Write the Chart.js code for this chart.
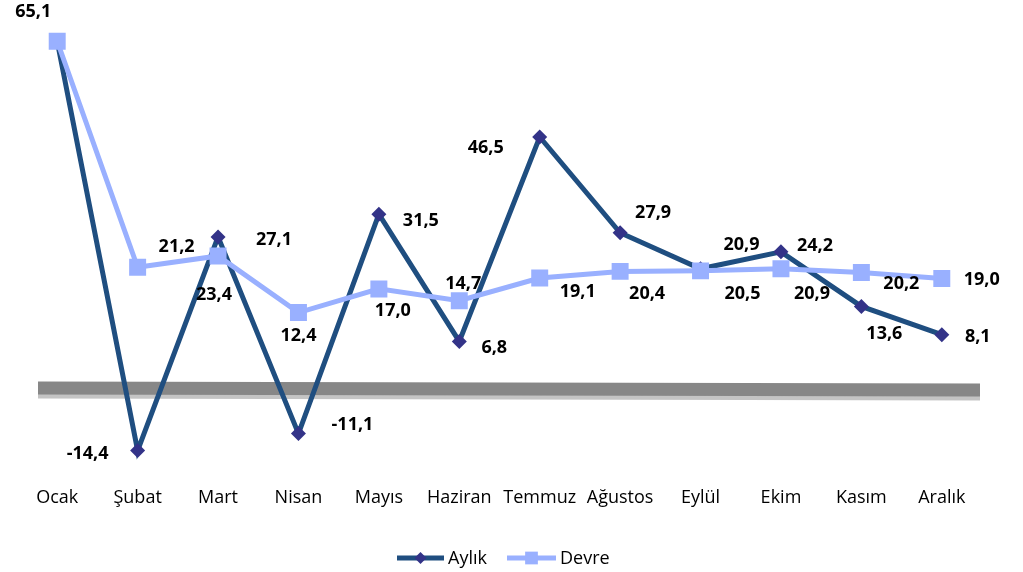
<!DOCTYPE html>
<html>
<head>
<meta charset="utf-8">
<script src="https://cdn.jsdelivr.net/npm/chart.js@4"></script>
<style>
  html, body { margin: 0; padding: 0; background: #fff; }
  #wrap { position: relative; width: 1023px; height: 572px; }
</style>
</head>
<body>
<div id="wrap"><canvas id="chart"></canvas></div>
<script>
// Data
const months = ['Ocak', 'Şubat', 'Mart', 'Nisan', 'Mayıs', 'Haziran', 'Temmuz', 'Ağustos', 'Eylül', 'Ekim', 'Kasım', 'Aralık'];
const aylik = [65.1, -14.4, 27.1, -11.1, 31.5, 6.8, 46.5, 27.9, 20.9, 24.2, 13.6, 8.1];
const devre = [65.1, 21.2, 23.4, 12.4, 17.0, 14.7, 19.1, 20.4, 20.5, 20.9, 20.2, 19.0];

// Label offsets (px) from each point; null = no label
const aylikLabelOffsets = [[-24, -29], [-50, 3], [56, 3], [54, -9], [42, 7], [35, 6], [-54, 11], [33, -20], [41, -24], [34, -6], [23, 27], [36, 2]];
const devreLabelOffsets = [null, [39, -20], [-4, 39], [0, 23], [14, 22], [4, -17], [38, 14], [27, 22], [42, 23], [31, 25], [40, 11], [40, 1]];

const FONT = '"Open Sans", "Noto Sans", sans-serif';

function fmt(v) {
    return v.toFixed(1).replace('.', ',');
}

/**
 * Grey bar along the zero line
 */
const zeroBand = {
    id: 'zeroBand',
    beforeDatasetsDraw(chart) {
        const { ctx, chartArea, scales } = chart;
        const y0 = scales.y.getPixelForValue(0);
        const left = chartArea.left + 21;
        const right = chartArea.right - 2;
        ctx.save();
        // light lower edge
        ctx.fillStyle = '#c4c4c4';
        ctx.beginPath();
        ctx.moveTo(left, y0 + 17);
        ctx.lineTo(right, y0 + 19);
        ctx.lineTo(right, y0 + 24);
        ctx.lineTo(left, y0 + 22);
        ctx.closePath();
        ctx.fill();
        // dark band
        ctx.fillStyle = '#878787';
        ctx.beginPath();
        ctx.moveTo(left, y0 + 5);
        ctx.lineTo(right, y0 + 7);
        ctx.lineTo(right, y0 + 20);
        ctx.lineTo(left, y0 + 18);
        ctx.closePath();
        ctx.fill();
        ctx.restore();
    }
};

/**
 * Value labels next to points
 */
const valueLabels = {
    id: 'valueLabels',
    afterDatasetsDraw(chart) {
        const ctx = chart.ctx;
        const offsets = [aylikLabelOffsets, devreLabelOffsets];
        ctx.save();
        ctx.font = 'bold 18px ' + FONT;
        ctx.fillStyle = '#000';
        ctx.textAlign = 'center';
        ctx.textBaseline = 'middle';
        chart.data.datasets.forEach((ds, i) => {
            const meta = chart.getDatasetMeta(i);
            meta.data.forEach((pt, j) => {
                const off = offsets[i][j];
                if (!off) return;
                ctx.fillText(fmt(ds.data[j]), pt.x + off[0], pt.y + off[1]);
            });
        });
        ctx.restore();
    }
};

/**
 * Legend with line + marker samples
 */
const lineLegend = {
    id: 'lineLegend',
    afterDraw(chart) {
        const ctx = chart.ctx;
        const y = 558;
        const items = [
            { text: 'Aylık', x1: 397, x2: 444, color: '#1f4e80', marker: 'rectRot', mColor: '#333388', r: 6, lw: 5 },
            { text: 'Devre', x1: 507, x2: 556, color: '#99b0ff', marker: 'rect', mColor: '#99b0ff', r: 9, lw: 5 }
        ];
        ctx.save();
        ctx.font = '18px ' + FONT;
        ctx.textBaseline = 'middle';
        items.forEach(it => {
            ctx.strokeStyle = it.color;
            ctx.lineWidth = it.lw;
            ctx.beginPath();
            ctx.moveTo(it.x1, y);
            ctx.lineTo(it.x2, y);
            ctx.stroke();
            ctx.fillStyle = it.mColor;
            Chart.helpers.drawPoint(ctx, { pointStyle: it.marker, radius: it.r, borderWidth: 0 }, (it.x1 + it.x2) / 2, y);
            ctx.fillStyle = '#000';
            ctx.fillText(it.text, it.x2 + 4, y + 1);
        });
        ctx.restore();
    }
};

new Chart(document.getElementById('chart'), {
    type: 'line',
    data: {
        labels: months,
        datasets: [
            {
                label: 'Aylık',
                data: aylik,
                order: 1,
                borderColor: '#1f4e80',
                borderWidth: 5,
                pointStyle: 'rectRot',
                pointRadius: 7.5,
                pointBackgroundColor: '#333388',
                pointBorderWidth: 0,
                tension: 0
            },
            {
                label: 'Devre',
                data: devre,
                order: 0,
                borderColor: '#99b0ff',
                borderWidth: 5,
                pointStyle: 'rect',
                pointRadius: 12,
                pointBackgroundColor: '#99b0ff',
                pointBorderWidth: 0,
                tension: 0
            }
        ]
    },
    options: {
        responsive: true,
        maintainAspectRatio: false,
        animation: false,
        layout: { padding: { left: 17, right: 41, top: 16, bottom: 55 } },
        plugins: {
            legend: { display: false },
            tooltip: { enabled: false }
        },
        scales: {
            x: {
                offset: true,
                grid: { display: false, drawTicks: false },
                border: { display: false },
                ticks: { color: '#000', font: { family: FONT, size: 18 }, padding: 8, maxRotation: 0, autoSkip: false }
            },
            y: {
                display: false,
                min: -20,
                max: 70
            }
        }
    },
    plugins: [zeroBand, valueLabels, lineLegend]
});
</script>
</body>
</html>
